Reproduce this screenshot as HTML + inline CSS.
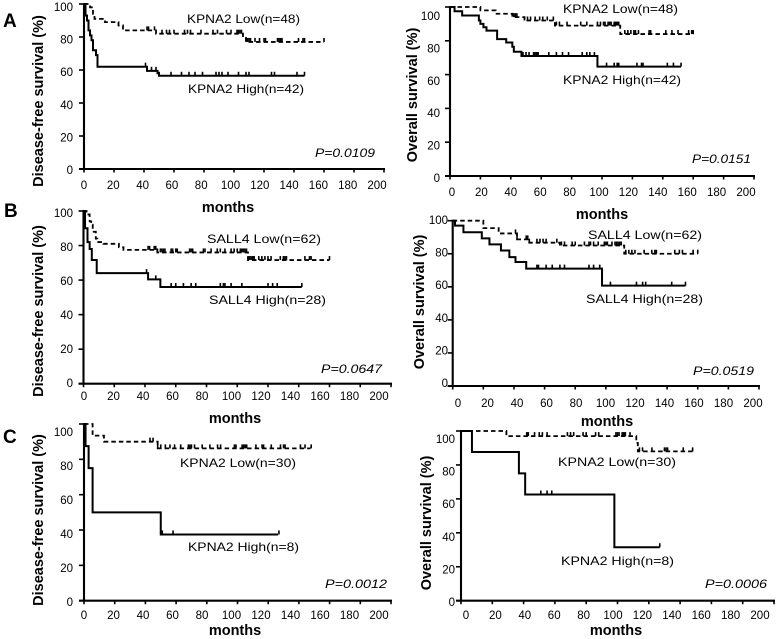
<!DOCTYPE html>
<html lang="en">
<head>
<meta charset="utf-8">
<title>Kaplan-Meier survival curves for KPNA2 and SALL4</title>
<style>
html,body{margin:0;padding:0;background:#fff}
svg{display:block;filter:blur(0.3px)}
text{font-family:"Liberation Sans",Arial,sans-serif;fill:#000}
.tick{font-size:11.5px}
.title{font-size:14.5px;font-weight:bold}
.group{font-size:12px}
.pval{font-size:11.5px;font-style:italic}
.letter{font-size:19px;font-weight:bold}
</style>
</head>
<body>
<svg id="figure" xmlns="http://www.w3.org/2000/svg" width="779" height="639" viewBox="0 0 779 639">
  <g>
    <text class="letter" x="3" y="27">A</text>
    <text class="letter" x="4" y="217">B</text>
    <text class="letter" x="3" y="443">C</text>
  </g>
  <g>
    <text class="title" transform="translate(43,101) rotate(-90)" text-anchor="middle">Disease-free survival (%)</text>
    <text class="title" transform="translate(417,95) rotate(-90)" text-anchor="middle">Overall survival (%)</text>
    <text class="title" transform="translate(43,311) rotate(-90)" text-anchor="middle">Disease-free survival (%)</text>
    <text class="title" transform="translate(424,302) rotate(-90)" text-anchor="middle">Overall survival (%)</text>
    <text class="title" transform="translate(43,520) rotate(-90)" text-anchor="middle">Disease-free survival (%)</text>
    <text class="title" transform="translate(431,523) rotate(-90)" text-anchor="middle">Overall survival (%)</text>
  </g>
  <g text-anchor="middle">
    <text class="title" x="228" y="212">months</text>
    <text class="title" x="602" y="219">months</text>
    <text class="title" x="235" y="423">months</text>
    <text class="title" x="607" y="426">months</text>
    <text class="title" x="235" y="635">months</text>
    <text class="title" x="616" y="635">months</text>
  </g>
  <g>
    <text class="group" x="187" y="23" textLength="113" lengthAdjust="spacingAndGlyphs">KPNA2 Low(n=48)</text>
    <text class="group" x="188" y="93" textLength="116" lengthAdjust="spacingAndGlyphs">KPNA2 High(n=42)</text>
    <text class="group" x="563" y="13" textLength="115" lengthAdjust="spacingAndGlyphs">KPNA2 Low(n=48)</text>
    <text class="group" x="563" y="84" textLength="118" lengthAdjust="spacingAndGlyphs">KPNA2 High(n=42)</text>
    <text class="group" x="207" y="243" textLength="114" lengthAdjust="spacingAndGlyphs">SALL4 Low(n=62)</text>
    <text class="group" x="209" y="304" textLength="117" lengthAdjust="spacingAndGlyphs">SALL4 High(n=28)</text>
    <text class="group" x="588" y="239" textLength="114" lengthAdjust="spacingAndGlyphs">SALL4 Low(n=62)</text>
    <text class="group" x="586" y="303" textLength="117" lengthAdjust="spacingAndGlyphs">SALL4 High(n=28)</text>
    <text class="group" x="180" y="467" textLength="116" lengthAdjust="spacingAndGlyphs">KPNA2 Low(n=30)</text>
    <text class="group" x="188" y="551" textLength="111" lengthAdjust="spacingAndGlyphs">KPNA2 High(n=8)</text>
    <text class="group" x="558" y="466" textLength="118" lengthAdjust="spacingAndGlyphs">KPNA2 Low(n=30)</text>
    <text class="group" x="561" y="565" textLength="113" lengthAdjust="spacingAndGlyphs">KPNA2 High(n=8)</text>
  </g>
  <g>
    <text class="pval" x="315" y="157" textLength="60" lengthAdjust="spacingAndGlyphs">P=0.0109</text>
    <text class="pval" x="692" y="163" textLength="59" lengthAdjust="spacingAndGlyphs">P=0.0151</text>
    <text class="pval" x="321" y="373" textLength="61" lengthAdjust="spacingAndGlyphs">P=0.0647</text>
    <text class="pval" x="693" y="375" textLength="61" lengthAdjust="spacingAndGlyphs">P=0.0519</text>
    <text class="pval" x="325" y="588" textLength="62" lengthAdjust="spacingAndGlyphs">P=0.0012</text>
    <text class="pval" x="705" y="588" textLength="62" lengthAdjust="spacingAndGlyphs">P=0.0006</text>
  </g>
</svg>
<script>
var xTickValues = [0,20,40,60,80,100,120,140,160,180,200];
var yTickValues = [0,20,40,60,80,100];

var aDfsLowTimes = [0,4,6,7,14,23,26,48,106,108,160];
var aDfsLowSurvival = [100,98,94,91,89,87,84,82,80,77,77];
var aDfsLowCensored = [42,43,47,52,55,57,60,67,69,71,78,86,89,95,98,102,103,104,105,108,109,110,111,114,117,120,121,129,130,131,132,143,146,147,160];
var aDfsHighTimes = [0,1,2,3,4,5,6,8,9,42,49,50,147];
var aDfsHighSurvival = [100,93,90,84,81,78,72,69,62,59.5,58,56.5,56.5];
var aDfsHighCensored = [41,45,48,50,58,65,70,74,79,88,90,92,96,103,108,110,125,127,142,147];

var aOsLowTimes = [0,20,30,41,49,69,112,160];
var aOsLowSurvival = [100,98,96,94,92,89,84,84];
var aOsLowCensored = [42,43,44,49,51,53,56,59,61,64,68,70,72,77,86,90,97,99,101,102,104,105,106,108,109,110,111,115,117,119,121,122,124,131,132,142,146,150,157,159,160];
var aOsHighTimes = [0,3,8,19,20,22,24,31,37,41,42,47,97,152];
var aOsHighSurvival = [100,97.5,95,92,90,88,86,81,79,76.5,73.5,71,64.7,64.7];
var aOsHighCensored = [48,50,52,55,56,57,58,65,70,74,78,87,90,92,95,103,108,110,111,123,126,127,143,147,152];

var bDfsLowTimes = [0,2,4,5,6,8,9,13,23,26,48,107,160];
var bDfsLowSurvival = [100,98,94,92,88,84,82,81,79,77.5,76,71.6,71.6];
var bDfsLowCensored = [42,43,46,47,48,50,51,52,53,57,58,60,61,69,70,71,78,79,83,87,89,92,96,98,100,102,103,104,105,106,107,108,109,110,111,114,116,118,120,122,128,130,131,132,144,147,148,160];
var bDfsHighTimes = [0,1,2.6,4,5.4,8.6,42,50,142];
var bDfsHighSurvival = [100,90,82,78,71.6,64,60.4,56,56];
var bDfsHighCensored = [41,47,57,60,65,70,73,89,91,92,96,103,120,123,126,142];

var bOsLowTimes = [0,20,30,42,50,70,112,160];
var bOsLowSurvival = [100,95.5,92.3,88.7,86.7,85,80,80];
var bOsLowCensored = [41,42,48,49,50,55,57,59,61,68,71,73,78,80,86,89,90,92,95,99,100,101,104,106,107,108,109,110,113,115,117,119,125,130,132,133,145,148,150,157,160];
var bOsHighTimes = [0,1.5,7,19,24,31.5,37,41,48,97.5,152];
var bOsHighSurvival = [100,97,93,89.3,85.7,82,78,75,71,60.7,60.7];
var bOsHighCensored = [55,56,61,65,70,73,89,92,96,103,120,124,126,143,152];

var cDfsLowTimes = [0,5.6,13,48,147.5];
var cDfsLowSurvival = [100,93.4,90,86.2,86.2];
var cDfsLowCensored = [43,45,48,50,53,56,59,63,68,69,70,72,77,82,87,89,98,99,103,104,105,106,112,116,117,122,128,130,131,141,144,148];
var cDfsHighTimes = [0,1,3,5.6,50,126.5];
var cDfsHighSurvival = [100,87.5,75,50,37.5,37.5];
var cDfsHighCensored = [51,58,127];

var cOsLowTimes = [0,29,112,113,148];
var cOsLowSurvival = [100,97,93,88,88];
var cOsLowCensored = [42,43,47,50,52,55,68,70,72,78,80,86,88,99,100,101,103,104,105,108,114,116,122,130,131,132,142,148];
var cOsHighTimes = [0,7,37,41,98,127];
var cOsHighSurvival = [100,87.6,75,62.6,31.5,31.5];
var cOsHighCensored = [51,55,58,127];

var SVG_NS = 'http://www.w3.org/2000/svg';
var figure = document.getElementById('figure');

function make(tag, parent, attrs) {
  var el = document.createElementNS(SVG_NS, tag);
  for (var k in attrs) { el.setAttribute(k, attrs[k]); }
  parent.appendChild(el);
  return el;
}

function survivalAt(times, values, t) {
  var s = values[0];
  for (var i = 0; i < times.length; i++) {
    if (times[i] <= t) { s = values[i]; }
  }
  return s;
}

function drawCurve(parent, times, values, censored, xs, ys, dash, label) {
  var d = 'M' + xs(times[0]) + ' ' + ys(values[0]);
  for (var i = 1; i < times.length; i++) {
    d += 'H' + xs(times[i]) + 'V' + ys(values[i]);
  }
  var attrs = {d: d, fill: 'none', stroke: '#000', 'stroke-width': 2};
  if (dash) { attrs['stroke-dasharray'] = '4.5 3'; attrs['stroke-width'] = 1.8; }
  var curve = make('path', parent, attrs);
  
  
  censored.forEach(function (t) {
    var py = ys(survivalAt(times, values, t));
    var mark = make('line', parent, {x1: xs(t), x2: xs(t), y1: py - 4, y2: py, stroke: '#000', 'stroke-width': 1.6});
    
    
  });
}

function drawPanel(p) {
  var g = make('g', figure, {});
  
  
  var xs = function (v) { return p.x0 + (p.x200 - p.x0) * v / 200; };
  var ys = function (v) { return p.y0 + (p.y100 - p.y0) * v / 100; };
  var xl = function (v) { return p.lx0 + (p.lx200 - p.lx0) * v / 200; };
  var yl = function (v) { return p.ly0 + (p.ly100 - p.ly0) * v / 100; };

  var xAxis = make('line', g, {x1: p.x0 - 5, x2: p.x200 + 1, y1: p.y0, y2: p.y0, stroke: '#000', 'stroke-width': 2.1});
  
  
  var yAxis = make('line', g, {x1: p.x0, x2: p.x0, y1: p.y100 - 1, y2: p.y0 + 1, stroke: '#000', 'stroke-width': 2.1});
  
  

  xTickValues.forEach(function (v) {
    var tick = make('line', g, {x1: xs(v), x2: xs(v), y1: p.y0, y2: p.y0 + 3.5, stroke: '#000', 'stroke-width': 1.6});
    
    
    var label = make('text', g, {'class': 'tick', x: xl(v), y: p.xLabelY, 'text-anchor': 'middle'});
    
    
    label.textContent = v;
  });
  yTickValues.forEach(function (v) {
    var tick = make('line', g, {x1: p.x0 - 5, x2: p.x0, y1: ys(v), y2: ys(v), stroke: '#000', 'stroke-width': 1.6});
    
    
    var label = make('text', g, {'class': 'tick', x: p.yLabelX, y: yl(v) + 4, 'text-anchor': 'end'});
    
    
    label.textContent = v;
  });

  drawCurve(g, p.lowT, p.lowS, p.lowC, xs, ys, true, 'low-expression');
  drawCurve(g, p.highT, p.highS, p.highC, xs, ys, false, 'high-expression');
}

drawPanel({id: 'a-dfs', x0: 84, x200: 384, y0: 169, y100: 4, lx0: 84, lx200: 377, xLabelY: 189, yLabelX: 73, ly0: 170, ly100: 7,
  lowT: aDfsLowTimes, lowS: aDfsLowSurvival, lowC: aDfsLowCensored, highT: aDfsHighTimes, highS: aDfsHighSurvival, highC: aDfsHighCensored});
drawPanel({id: 'a-os', x0: 450, x200: 754, y0: 176, y100: 7, lx0: 452, lx200: 746, xLabelY: 196, yLabelX: 440, ly0: 178, ly100: 16,
  lowT: aOsLowTimes, lowS: aOsLowSurvival, lowC: aOsLowCensored, highT: aOsHighTimes, highS: aOsHighSurvival, highC: aOsHighCensored});
drawPanel({id: 'b-dfs', x0: 83.5, x200: 391, y0: 383.7, y100: 211, lx0: 84, lx200: 379, xLabelY: 400, yLabelX: 73, ly0: 383, ly100: 213,
  lowT: bDfsLowTimes, lowS: bDfsLowSurvival, lowC: bDfsLowCensored, highT: bDfsHighTimes, highS: bDfsHighSurvival, highC: bDfsHighCensored});
drawPanel({id: 'b-os', x0: 452.7, x200: 759, y0: 386, y100: 220.7, lx0: 458, lx200: 753, xLabelY: 407, yLabelX: 448, ly0: 383, ly100: 220,
  lowT: bOsLowTimes, lowS: bOsLowSurvival, lowC: bOsLowCensored, highT: bOsHighTimes, highS: bOsHighSurvival, highC: bOsHighCensored});
drawPanel({id: 'c-dfs', x0: 84, x200: 391, y0: 600.7, y100: 424, lx0: 84, lx200: 379, xLabelY: 619, yLabelX: 73, ly0: 602, ly100: 432,
  lowT: cDfsLowTimes, lowS: cDfsLowSurvival, lowC: cDfsLowCensored, highT: cDfsHighTimes, highS: cDfsHighSurvival, highC: cDfsHighCensored});
drawPanel({id: 'c-os', x0: 461, x200: 774, y0: 600.7, y100: 431, lx0: 466, lx200: 760, xLabelY: 619, yLabelX: 455, ly0: 602, ly100: 439,
  lowT: cOsLowTimes, lowS: cOsLowSurvival, lowC: cOsLowCensored, highT: cOsHighTimes, highS: cOsHighSurvival, highC: cOsHighCensored});
</script>
</body>
</html>
